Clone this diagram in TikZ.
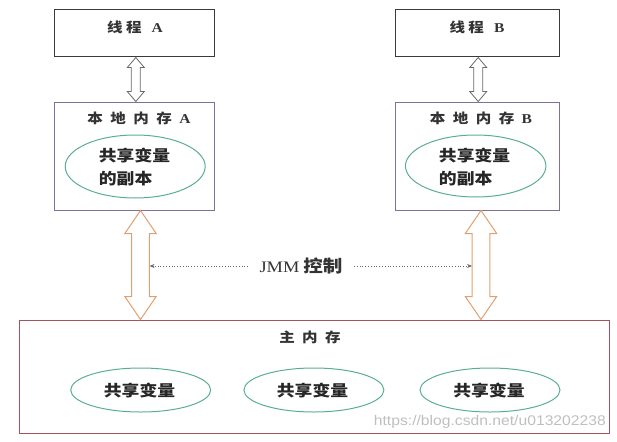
\documentclass[tikz,border=0pt]{standalone}
\usepackage{fontspec}
\setmainfont{Liberation Serif}
\newfontfamily\cjk[FakeStretch=1.15]{Noto Sans CJK SC}
\newfontfamily\lat[FakeStretch=1.15]{Liberation Serif}
\newfontfamily\wmfont[FakeStretch=1.12]{Liberation Sans}
\usetikzlibrary{calc,arrows.meta,shapes.geometric}
\definecolor{boxgray}{HTML}{3A3A3A}
\definecolor{localc}{HTML}{8070A0}
\definecolor{ellc}{HTML}{5AAE90}
\definecolor{mainc}{HTML}{A8505C}
\definecolor{orangec}{HTML}{E0A070}
\definecolor{arrgray}{HTML}{6A6A6A}
\tikzset{
  threadbox/.style={draw=boxgray, line width=1pt, minimum height=47pt, inner sep=0pt},
  localbox/.style={draw=localc, line width=0.9pt, minimum height=108pt, inner sep=0pt},
  mainbox/.style={draw=mainc, line width=1pt, minimum width=590pt, minimum height=113pt, inner sep=0pt},
  ell/.style={draw=ellc, line width=1pt, ellipse, inner sep=0pt},
  hdr/.style={font=\cjk\bfseries\fontsize{13.5}{15}\selectfont, text=black!80, inner sep=0pt},
  etxt/.style={font=\cjk\bfseries\fontsize{15.5}{23}\selectfont, text=black!85, align=left, inner sep=0pt},
  thinarrow/.style={draw=arrgray, line width=0.8pt, fill=white},
  bigarrow/.style={draw=orangec, line width=1pt, fill=white},
  jmmline/.style={draw=arrgray, dotted, line width=0.8pt, -{Stealth[length=5pt,width=4pt]}},
}
% #1 style, #2 top, #3 bottom, #4 shaft half width, #5 head half width, #6 head length
\newcommand\dblarrow[6]{%
  \draw[#1] let \p1=(#2), \p2=(#3) in
    (\x1,\y1) -- (\x1+#5,\y1-#6) -- (\x1+#4,\y1-#6) -- (\x1+#4,\y2+#6)
    -- (\x1+#5,\y2+#6) -- (\x1,\y2) -- (\x1-#5,\y2+#6) -- (\x1-#4,\y2+#6)
    -- (\x1-#4,\y1-#6) -- (\x1-#5,\y1-#6) -- cycle;}
\newcommand\gp{\hspace{0.55em}}
\begin{document}
\begin{tikzpicture}[x=1pt,y=-1pt]
\useasboundingbox (0,0) rectangle (617,441);
% thread boxes
\node[threadbox, minimum width=160.5pt] (ta) at (134.3,33.5) {};
\node[threadbox, minimum width=164pt] (tb) at (477.5,33.5) {};
\node[hdr] (tatext) at (135,27.5) {线\hspace{0.25em}程\hspace{0.75em}{\lat A}};
\node[hdr] (tbtext) at (477,27.5) {线\hspace{0.25em}程\hspace{0.75em}{\lat B}};
% local boxes
\node[localbox, minimum width=160.5pt] (la) at (134.3,156) {};
\node[localbox, minimum width=164pt] (lb) at (477.5,156) {};
\node[hdr] (latext) at (139,118.5) {本\gp 地\gp 内\gp 存\gp{\lat A}};
\node[hdr] (lbtext) at (481,118.5) {本\gp 地\gp 内\gp 存\gp{\lat B}};
\node[ell, minimum width=140pt, minimum height=63pt] (ea) at (135.2,166.5) {};
\node[ell, minimum width=140.5pt, minimum height=62pt] (eb) at (475.7,166) {};
\node[etxt] (eatext) at (134.5,167) {共享变量\\的副本};
\node[etxt] (ebtext) at (474.6,167) {共享变量\\的副本};
% main memory
\node[mainbox] (main) at (314.9,376.5) {};
\node[hdr] (maintext) at (310,337.5) {主\gp 内\gp 存};
\node[ell, minimum width=140pt, minimum height=44pt] (m1) at (140.7,390) {};
\node[ell, minimum width=140pt, minimum height=44pt] (m2) at (313.9,390) {};
\node[ell, minimum width=140pt, minimum height=44pt] (m3) at (490,390) {};
\node[etxt] (m1t) at (139.5,390.5) {共享变量};
\node[etxt] (m2t) at (312.5,390.5) {共享变量};
\node[etxt] (m3t) at (489,390.5) {共享变量};
% thread <-> local arrows
\coordinate (tas) at (135.8,57.5);
\coordinate (lan) at (135.8,101.5);
\coordinate (tbs) at (478.2,57.5);
\coordinate (lbn) at (478.2,101.5);
\dblarrow{thinarrow}{tas}{lan}{4.5pt}{8.5pt}{10pt}
\dblarrow{thinarrow}{tbs}{lbn}{4.5pt}{8.5pt}{10pt}
% local <-> main arrows
\coordinate (las) at (140.5,210.5);
\coordinate (mna) at (140.5,319.5);
\coordinate (lbs) at (481,210.5);
\coordinate (mnb) at (481,319.5);
\dblarrow{bigarrow}{las}{mna}{8.8pt}{15.7pt}{23pt}
\dblarrow{bigarrow}{lbs}{mnb}{8.8pt}{15.7pt}{23pt}
% JMM control
\node[font=\lat\fontsize{16}{18}\selectfont, text=black!80, inner sep=0pt] (jmm) at (301,266) {JMM\hspace{0.25em}{\cjk\bfseries\fontsize{17}{18}\selectfont 控制}};
\coordinate (ja) at (149.5,266);
\coordinate (jb) at (472,266);
\draw[jmmline] (248,266) -- (ja);
\draw[jmmline] (354,266) -- (jb);
% watermark
\node[font=\wmfont\fontsize{14}{16}\selectfont, text=black!25, anchor=east, inner sep=0pt] (wm) at (606,422) {https://blog.csdn.net/u013202238};
\end{tikzpicture}
\end{document}
